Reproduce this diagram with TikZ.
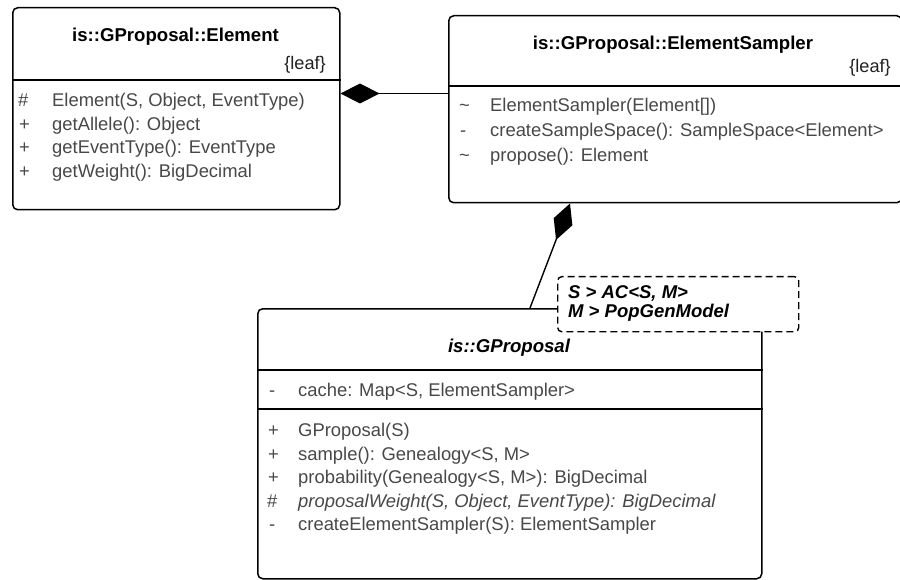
\documentclass[tikz,border=0pt]{standalone}
\usepackage{fontspec}
\setmainfont{Liberation Sans}
\usetikzlibrary{arrows.meta}
\definecolor{txtgray}{HTML}{484848}
\definecolor{leafgray}{HTML}{222222}
\tikzset{
  umlbox/.style={draw=black, line width=1.5pt, rounded corners=5pt, fill=white,
    inner sep=0pt, anchor=north west},
  sepline/.style={draw=black, line width=1.5pt},
  member/.style={anchor=base west, inner sep=0pt, text=txtgray,
    font=\fontsize{18.4}{22}\selectfont},
  classtitle/.style={anchor=base, inner sep=0pt,
    font=\fontsize{18.6}{22}\selectfont\bfseries},
  prop/.style={anchor=base east, inner sep=0pt, text=leafgray,
    font=\fontsize{18.2}{22}\selectfont},
  notebox/.style={draw=black, line width=1.4pt, dash pattern=on 7pt off 4pt,
    rounded corners=4pt, fill=white, inner sep=0pt, anchor=north west},
  notetext/.style={anchor=base west, inner sep=0pt,
    font=\fontsize{18.5}{22}\selectfont\bfseries\itshape},
  comp/.style={draw=black, line width=1.4pt,
    -{Diamond[length=39pt,width=20pt]}},
}
\begin{document}
\begin{tikzpicture}[x=1pt, y=-1pt]
  \clip (0,0) rectangle (900,580);
  \fill[white] (0,0) rectangle (900,580);

  % class boxes
  \node[umlbox, minimum width=327pt, minimum height=202pt] (el) at (12,7) {};
  \node[umlbox, minimum width=453pt, minimum height=187pt] (es) at (448,15) {};
  \node[umlbox, minimum width=504pt, minimum height=270pt] (gp) at (257,308) {};

  % compartment separators
  \draw[sepline] ([yshift=-73pt]el.north west) -- ([yshift=-73pt]el.north east);
  \draw[sepline] ([yshift=-71pt]es.north west) -- ([yshift=-71pt]es.north east);
  \draw[sepline] ([yshift=-62pt]gp.north west) -- ([yshift=-62pt]gp.north east);
  \draw[sepline] ([yshift=-101pt]gp.north west) -- ([yshift=-101pt]gp.north east);

  % compositions
  \draw[comp] ([yshift=-78.5pt]es.north west) -- ([yshift=-86.5pt]el.north east);
  \draw[comp] ([xshift=273pt]gp.north west) -- ([xshift=122pt]es.south west);

  % template parameters
  \node[notebox, minimum width=241pt, minimum height=55pt] (nt) at (557,276) {};
  \node[notetext] (nt1) at (568,298.5) {S > AC<S, M>};
  \node[notetext] (nt2) at (568,317.5) {M > PopGenModel};

  % is::GProposal::Element
  \node[classtitle] (elt) at (175.5,42) {is::GProposal::Element};
  \node[prop] (ell) at (326,70) {\{leaf\}};
  \node[member] (elv1) at (18,107) {\#};
  \node[member] (elm1) at (52,107) {Element(S, Object, EventType)};
  \node[member] (elv2) at (19,130.5) {+};
  \node[member] (elm2) at (52,130.5) {getAllele(): Object};
  \node[member] (elv3) at (19,154) {+};
  \node[member] (elm3) at (52,154) {getEventType(): EventType};
  \node[member] (elv4) at (19,177.5) {+};
  \node[member] (elm4) at (52,177.5) {getWeight(): BigDecimal};

  % is::GProposal::ElementSampler
  \node[classtitle] (est) at (673,49.5) {is::GProposal::ElementSampler};
  \node[prop] (esl) at (891,73) {\{leaf\}};
  \node[member] (esv1) at (459,111.5) {\textasciitilde};
  \node[member] (esm1) at (490,111.5) {ElementSampler(Element[])};
  \node[member] (esv2) at (460,136.5) {-};
  \node[member] (esm2) at (490,136.5) {createSampleSpace(): SampleSpace<Element>};
  \node[member] (esv3) at (459,161.5) {\textasciitilde};
  \node[member] (esm3) at (490,161.5) {propose(): Element};

  % is::GProposal
  \node[classtitle, font=\fontsize{18.6}{22}\selectfont\bfseries\itshape] (gpt) at (509,352) {is::GProposal};
  \node[member] (gpv0) at (269,396.5) {-};
  \node[member] (gpa1) at (298,396.5) {cache: Map<S, ElementSampler>};
  \node[member] (gpv1) at (268,436.5) {+};
  \node[member] (gpm1) at (298,436.5) {GProposal(S)};
  \node[member] (gpv2) at (268,460) {+};
  \node[member] (gpm2) at (298,460) {sample(): Genealogy<S, M>};
  \node[member] (gpv3) at (268,483.5) {+};
  \node[member] (gpm3) at (298,483.5) {probability(Genealogy<S, M>): BigDecimal};
  \node[member] (gpv4) at (267,507) {\#};
  \node[member, font=\fontsize{18.4}{22}\selectfont\itshape] (gpm4) at (298,507) {proposalWeight(S, Object, EventType): BigDecimal};
  \node[member] (gpv5) at (269,530.5) {-};
  \node[member] (gpm5) at (298,530.5) {createElementSampler(S): ElementSampler};
\end{tikzpicture}
\end{document}
